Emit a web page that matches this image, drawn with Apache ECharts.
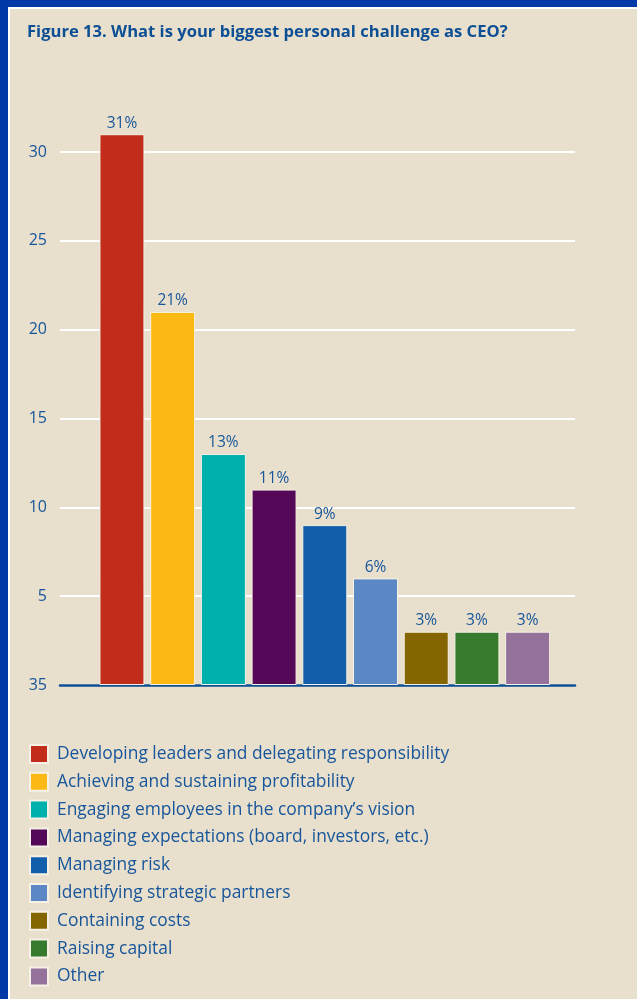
<!DOCTYPE html>
<html>
<head>
<meta charset="utf-8">
<script src="https://cdn.jsdelivr.net/npm/echarts@6/dist/echarts.min.js"></script>
<style>
  html, body { margin: 0; padding: 0; background: #e8dfcc; }
  #chart { width: 637px; height: 999px; }
</style>
</head>
<body>
<div id="chart"></div>
<script>
// Survey answers: biggest personal challenge as CEO (% of respondents)
const categories = [
  'Developing leaders and delegating responsibility',
  'Achieving and sustaining profitability',
  'Engaging employees in the company\u2019s vision',
  'Managing expectations (board, investors, etc.)',
  'Managing risk',
  'Identifying strategic partners',
  'Containing costs',
  'Raising capital',
  'Other'
];
const values = [31, 21, 13, 11, 9, 6, 3, 3, 3];
const colors = ['#c12d1a', '#fdb913', '#00b0ad', '#540857', '#135eaa', '#5b87c5', '#856500', '#367a2e', '#95729c'];
const yTicks = [0, 5, 10, 15, 20, 25, 30];
const yTickLabels = ['35', '5', '10', '15', '20', '25', '30'];

const textBlue = '#17569b';
const font = '"Open Sans", "Noto Sans", sans-serif';

// one series per answer so each gets its own legend entry
const series = categories.map((name, i) => ({
  name: name,
  type: 'bar',
  xAxisIndex: 1,
  yAxisIndex: 1,
  stack: 'all',
  barWidth: 45,
  clip: false,
  itemStyle: { color: colors[i], borderColor: '#f6f1e6', borderWidth: 1 },
  label: {
    show: true,
    position: 'top',
    distance: 3,
    formatter: '{c}%',
    color: textBlue,
    fontFamily: font,
    fontSize: 15.5
  },
  data: categories.map((c, j) => (j === i ? values[i] : null))
}));

const chart = echarts.init(document.getElementById('chart'), null, { renderer: 'canvas' });
chart.setOption({
  backgroundColor: '#e8dfcc',
  animation: false,
  title: {
    text: 'Figure 13. What is your biggest personal challenge as CEO?',
    left: 27,
    top: 24,
    padding: 0,
    textStyle: { color: '#0d4f94', fontFamily: font, fontSize: 16.6, fontWeight: 'bold' }
  },
  graphic: [
    { type: 'rect', left: 0, top: 0, shape: { width: 637, height: 7 }, style: { fill: '#0038a8' } },
    { type: 'rect', left: 0, top: 0, shape: { width: 8, height: 999 }, style: { fill: '#0038a8' } },
    { type: 'rect', left: 8, top: 7, shape: { width: 629, height: 2 }, style: { fill: '#ffffff' } },
    { type: 'rect', left: 8, top: 7, shape: { width: 2, height: 992 }, style: { fill: '#ffffff' } }
  ],
  legend: {
    orient: 'vertical',
    left: 29,
    top: 744,
    height: 250,
    padding: 0,
    itemWidth: 18,
    itemHeight: 18,
    itemGap: 7.8,
    icon: 'rect',
    data: categories,
    selectedMode: false,
    textStyle: { color: textBlue, fontFamily: font, fontSize: 17.4, padding: [0, 0, 0, 4] }
  },
  grid: [
    { left: 60, right: 62, top: 152, bottom: 314 },
    { left: 96.6, right: 84, top: 152, bottom: 314 }
  ],
  xAxis: [
    {
      gridIndex: 0,
      type: 'value',
      min: 0, max: 1,
      axisLine: { show: true, lineStyle: { color: '#0d4f94', width: 2.5 } },
      axisTick: { show: false },
      axisLabel: { show: false },
      splitLine: { show: false }
    },
    {
      gridIndex: 1,
      type: 'category',
      data: categories,
      show: false
    }
  ],
  yAxis: [
    {
      gridIndex: 0,
      type: 'value',
      min: 0, max: 30, interval: 5,
      axisLine: { show: false },
      axisTick: { show: false },
      axisLabel: {
        color: textBlue,
        fontFamily: font,
        fontSize: 16,
        margin: 13,
        formatter: v => yTickLabels[yTicks.indexOf(v)]
      },
      splitLine: { lineStyle: { color: '#ffffff', width: 2 } }
    },
    {
      gridIndex: 1,
      type: 'value',
      min: 0, max: 30,
      show: false
    }
  ],
  series: series
});
</script>
</body>
</html>
